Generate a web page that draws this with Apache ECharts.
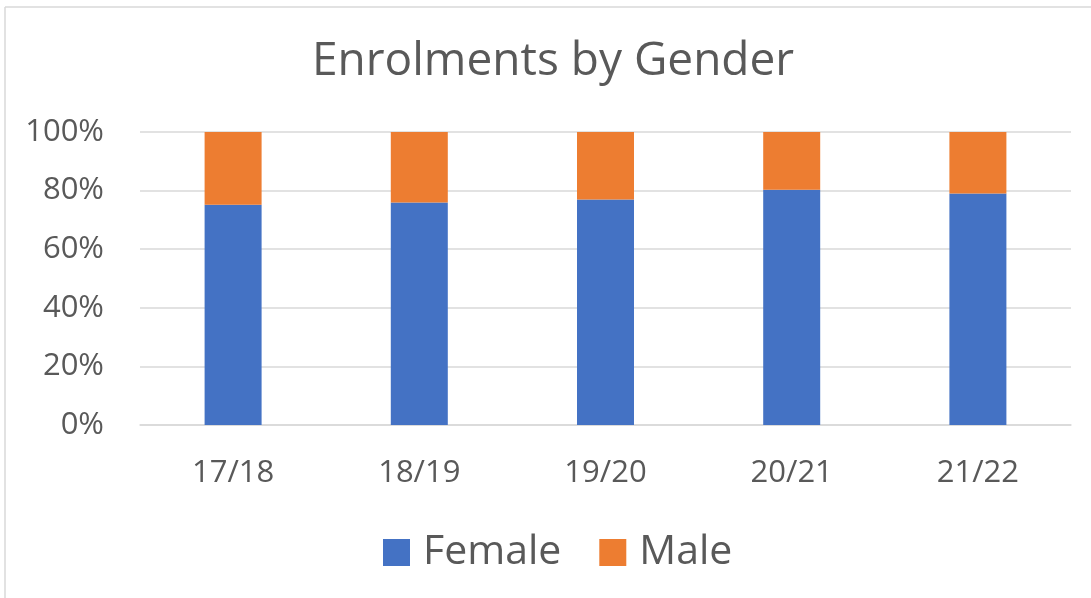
<!DOCTYPE html>
<html>
<head>
<meta charset="utf-8">
<script src="https://cdn.jsdelivr.net/npm/echarts@6/dist/echarts.min.js"></script>
<style>
  html, body { margin: 0; padding: 0; background: #fff; }
  #chart { width: 1091px; height: 598px; }
</style>
</head>
<body>
<div id="chart"></div>
<script>
const years = ['17/18', '18/19', '19/20', '20/21', '21/22']
// share of enrolments, percent
const female = [75.2, 75.9, 77.0, 80.3, 79.0]
const male = female.map(v => +(100 - v).toFixed(1))
const yTicks = [0, 20, 40, 60, 80, 100]

const chart = echarts.init(document.getElementById('chart'))
const txt = '#595959'
const font = 'Open Sans'

const option = {
    backgroundColor: '#fff',
    animation: false,
    title: {
        text: 'Enrolments by Gender',
        left: 307,
        top: 34,
        textStyle: { color: txt, fontSize: 46, fontWeight: 'normal', fontFamily: font }
    },
    legend: {
        top: 527,
        left: 378,
        itemWidth: 27,
        itemHeight: 27,
        itemGap: 38,
        icon: 'rect',
        textStyle: { color: txt, fontSize: 41, fontFamily: font, padding: [0, 0, 0, 8] }
    },
    grid: { left: 140, right: 20, top: 132, bottom: 173 },
    xAxis: {
        type: 'category',
        data: years,
        axisTick: { show: false },
        axisLine: { lineStyle: { color: '#d9d9d9', width: 1.5 } },
        axisLabel: { color: txt, fontSize: 31, fontFamily: font, margin: 33 }
    },
    yAxis: {
        type: 'value',
        min: 0,
        max: 100,
        interval: 20,
        axisLabel: {
            color: txt, fontSize: 31, fontFamily: font, margin: 36,
            formatter: v => yTicks.includes(v) ? v + '%' : ''
        },
        splitLine: { lineStyle: { color: '#d9d9d9', width: 1.5 } }
    },
    series: [
        {
            name: 'Female', type: 'bar', stack: 'total', barWidth: 57,
            itemStyle: { color: '#4472C4' },
            data: female
        },
        {
            name: 'Male', type: 'bar', stack: 'total', barWidth: 57,
            itemStyle: { color: '#ED7D31' },
            data: male
        }
    ],
    graphic: [
        { type: 'line', shape: { x1: 5, y1: 7, x2: 1091, y2: 7 }, style: { stroke: '#d9d9d9', lineWidth: 1.5 } },
        { type: 'line', shape: { x1: 5, y1: 7, x2: 5, y2: 598 }, style: { stroke: '#d9d9d9', lineWidth: 1.5 } }
    ]
}
chart.setOption(option)
</script>
</body>
</html>
